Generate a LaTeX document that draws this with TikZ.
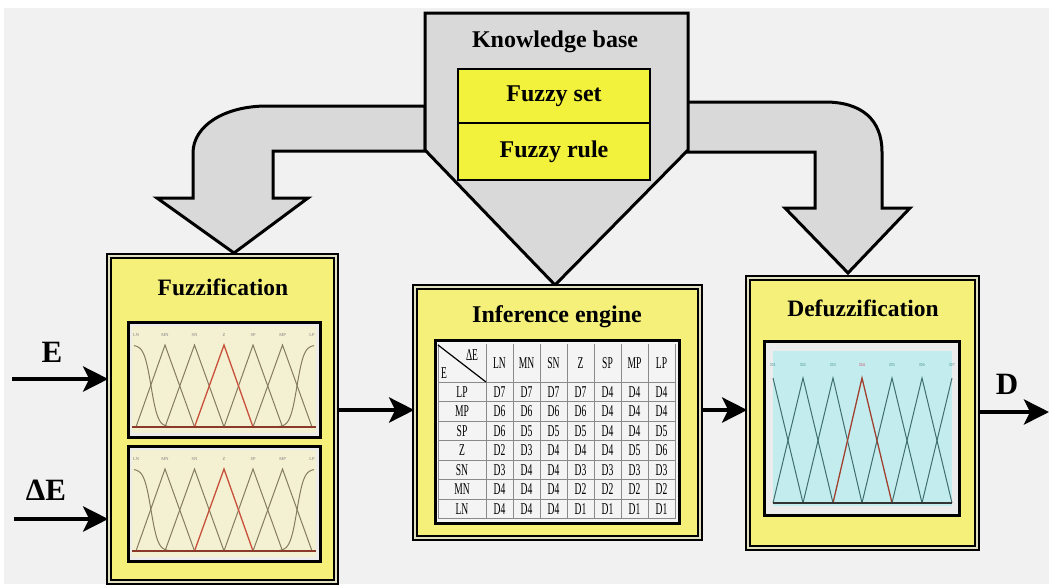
\documentclass[tikz,border=0pt]{standalone}
\usepackage{fontspec}
\usepackage{graphicx}
\setmainfont{Liberation Serif}
\usetikzlibrary{arrows.meta}
\definecolor{bg}{HTML}{F1F1F1}
\definecolor{kbgray}{HTML}{D9D9D9}
\definecolor{paley}{HTML}{F4F07A}
\definecolor{brighty}{HTML}{F2F23C}
\definecolor{gapy}{HTML}{E2E1C2}
\definecolor{cream}{HTML}{F4F0D2}
\definecolor{cyanp}{HTML}{C3ECEE}
\definecolor{mfline}{HTML}{857C5E}
\definecolor{mfred}{HTML}{C8503A}
\definecolor{mfbase}{HTML}{8B3A2A}
\definecolor{dfline}{HTML}{3F6E70}
\definecolor{dflab}{HTML}{3A8A8A}
\definecolor{dfred}{HTML}{D04060}
\definecolor{tabbg}{HTML}{F4F4F4}
\definecolor{gridc}{HTML}{8A8A8A}
\newcommand{\tabtxt}[1]{\scalebox{0.58}[1]{\fontsize{16.5}{16.5}\selectfont #1}}
\begin{document}
\begin{tikzpicture}[x=1pt,y=-1pt,
  bigbox/.style={draw=black, line width=1.6pt, double=gapy, double distance=2pt, fill=paley, inner sep=0pt},
  kbbox/.style={draw=black, line width=2.2pt, fill=brighty, minimum width=192pt, inner sep=0pt, font=\fontsize{24}{24}\selectfont\bfseries},
  ttl/.style={font=\fontsize{23.5}{23.5}\selectfont\bfseries, inner sep=0pt},
  biglab/.style={font=\fontsize{31}{31}\selectfont\bfseries, inner sep=0pt},
  flow/.style={line width=4.5pt, -{Stealth[length=25pt,width=25pt,inset=6pt]}},
  kbarrow/.style={draw=black, line width=3pt, fill=kbgray, line join=miter},
  frm/.style={draw=black, line width=3pt, fill=gray!15},
  mfl/.style={draw=mfline, line width=1pt},
  dfl/.style={draw=dfline, line width=1pt},
  tcell/.style={inner sep=0pt},
  tiny/.style={inner sep=0pt, font=\fontsize{4.5}{4.5}\selectfont}
]
\useasboundingbox (0,0) rectangle (1049,584);
\fill[white] (0,0) rectangle (1049,584);
\fill[bg] (4,8) rectangle (1049,584);

% ---------- curved band arrows from the knowledge base ----------
\draw[kbarrow] (425,106) -- (267,106) .. controls (224,106) and (193,126) .. (193,153)
  -- (193,198) -- (157,198) -- (234,253) -- (308,198) -- (273,198) -- (273,151) -- (425,151) -- cycle;
\draw[kbarrow] (687,102) -- (825,102) .. controls (862,102) and (882,120) .. (882,152)
  -- (882,208) -- (910,208) -- (848,273) -- (785,208) -- (815,208) -- (815,152) -- (687,152) -- cycle;

% ---------- knowledge base ----------
\draw[kbarrow] (425,13) -- (688,13) -- (688,150) -- (555,285) -- (425,150) -- cycle;
\node[ttl, font=\fontsize{24}{24}\selectfont\bfseries] (kbt) at (555,42) {Knowledge base};
\node[kbbox, minimum height=54pt] (fset) at (554,96) {Fuzzy set};
\node[kbbox, minimum height=57pt] (frule) at (554,151.5) {Fuzzy rule};

% ---------- main boxes ----------
\node[bigbox, minimum width=227pt, minimum height=326pt] (fuzz) at (222.5,419) {};
\node[bigbox, minimum width=285pt, minimum height=251pt] (inf) at (557.5,412.5) {};
\node[bigbox, minimum width=229pt, minimum height=270pt] (defz) at (862.5,413) {};
\node[ttl] (fuzzt) at (223,287) {Fuzzification};
\node[ttl, font=\fontsize{24}{24}\selectfont\bfseries] (inft) at (557,317) {Inference engine};
\node[ttl] (defzt) at (863,308) {Defuzzification};

% ---------- fuzzification plots ----------
\foreach \py in {322,446}{
\begin{scope}[shift={(128,\py)}]
  \draw[frm] (0,0) rectangle (192,115);
  \fill[cream] (4,4) rectangle (188,111);
  \foreach \lx/\lt in {8/LN,37/MN,66.5/SN,96/Z,125/SP,154.5/MP,184/LP}
    \node[tiny, text=gray] at (\lx,13) {\lt};
  \draw[mfl] plot[domain=6:50, samples=45, smooth] (\x, {105 - 82/(1+exp((\x-23)/3.5))}) -- (66.5,105);
  \draw[mfl] (132,105) -- (142,105) -- plot[domain=142:186, samples=45, smooth] (\x, {105 - 82/(1+exp(-(\x-169)/3.5))});
  \draw[mfl] (8,105) -- (37,23) -- (66.5,105);
  \draw[mfl] (37,105) -- (66.5,23) -- (96,105);
  \draw[mfl] (96,105) -- (125,23) -- (154.5,105);
  \draw[mfl] (125,105) -- (154.5,23) -- (184,105);
  \draw[mfred, line width=1.3pt] (66.5,105) -- (96,23) -- (125,105);
  \draw[mfbase, line width=1.6pt] (4,105) -- (188,105);
\end{scope}
}

% ---------- defuzzification plot ----------
\begin{scope}[shift={(764,341)}]
  \draw[frm] (0,0) rectangle (195,174);
  \fill[cyanp] (9,10) rectangle (188,165);
  \foreach \lx/\lt in {9/D1,39/D2,69/D3,128/D5,158/D6,188/D7}
    \node[tiny, text=dflab] at (\lx,24) {\lt};
  \node[tiny, text=dfred] at (98,24) {D4};
  \draw[dfl] (9,37) -- (39,162);
  \draw[dfl] (9,162) -- (39,37) -- (69,162);
  \draw[dfl] (39,162) -- (69,37) -- (98,162);
  \draw[dfl] (98,162) -- (128,37) -- (158,162);
  \draw[dfl] (128,162) -- (158,37) -- (188,162);
  \draw[dfl] (158,162) -- (188,37);
  \draw[mfred!80!black, line width=1.3pt] (69,162) -- (98,37) -- (128,162);
  \draw[black!80, line width=2pt] (9,162) -- (188,162);
\end{scope}

% ---------- rule table ----------
\draw[black, line width=3pt, fill=tabbg] (435,340) rectangle (679,523);
\foreach \i in {0,...,7} \draw[gridc, line width=0.6pt] (486+27*\i,344) -- (486+27*\i,519);
\draw[gridc, line width=0.6pt] (438,344) -- (438,519);
\draw[gridc, line width=0.6pt] (438,382) -- (675,382);
\foreach \i in {1,...,7} \draw[gridc, line width=0.6pt] (438,{382+19.5*\i}) -- (675,{382+19.5*\i});
\draw[black, line width=1.2pt] (438,345) -- (486,382);
\node[tcell] (hde) at (472,355) {\tabtxt{ΔE}};
\node[tcell] (he) at (444,373) {\tabtxt{E}};
\foreach \h [count=\c] in {LN,MN,SN,Z,SP,MP,LP}
  \node[tcell] (h\c) at ({486+27*(\c-0.5)},363) {\tabtxt{\h}};
\foreach \lab [count=\r] in {LP,MP,SP,Z,SN,MN,LN}
  \node[tcell] (r\r) at (462,{382+19.5*(\r-0.5)}) {\tabtxt{\lab}};
\foreach \row [count=\r] in {{D7,D7,D7,D7,D4,D4,D4},{D6,D6,D6,D6,D4,D4,D4},{D6,D5,D5,D5,D4,D4,D5},{D2,D3,D4,D4,D4,D5,D6},{D3,D4,D4,D3,D3,D3,D3},{D4,D4,D4,D2,D2,D2,D2},{D4,D4,D4,D1,D1,D1,D1}}{
  \foreach \v [count=\c] in \row
    \node[tcell] (c\r-\c) at ({486+27*(\c-0.5)},{382+19.5*(\r-0.5)}) {\tabtxt{\v}};
}

% ---------- inputs / outputs ----------
\node[biglab] (elab) at (52,352) {E};
\node[biglab] (delab) at (46,490) {ΔE};
\node[biglab] (dlab) at (1007,384) {D};
\coordinate (ein) at (12,379);
\coordinate (dein) at (14,519);
\coordinate (dout) at (1049,412);
\coordinate (ymid) at (0,410);
\draw[flow] (ein) -- (fuzz.west |- ein);
\draw[flow] (dein) -- (fuzz.west |- dein);
\draw[flow] (fuzz.east |- ymid) -- (inf.west |- ymid);
\draw[flow] (inf.east |- ymid) -- (defz.west |- ymid);
\draw[flow] (defz.east |- dout) -- (dout);
\end{tikzpicture}
\end{document}
